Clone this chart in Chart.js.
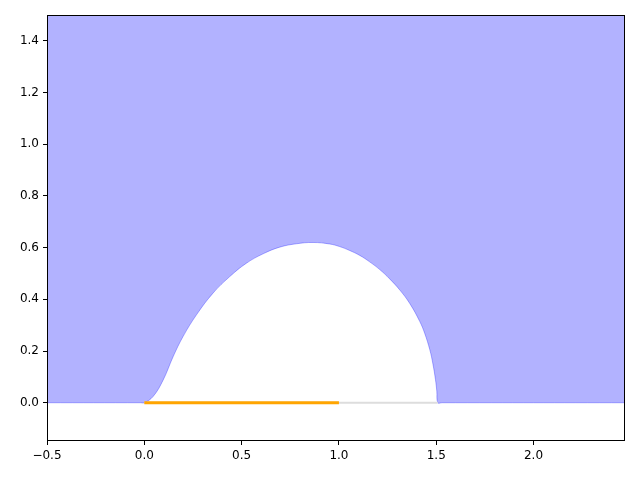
<!DOCTYPE html>
<html>
<head>
<meta charset="utf-8">
<script src="https://cdn.jsdelivr.net/npm/chart.js@4.4.1/dist/chart.umd.min.js"></script>
<style>
  html, body { margin: 0; padding: 0; background: #fff; }
  #wrap { width: 640px; height: 480px; }
</style>
</head>
<body>
<div id="wrap"><canvas id="chart" width="640" height="480"></canvas></div>
<script>
// contour of the shaded region (baseline, then the bubble, then baseline again)
const edgeX = [-0.5, -0.02, 0, 0.045, 0.097, 0.148, 0.199, 0.268, 0.353, 0.439, 0.525, 0.61, 0.696, 0.782, 0.867,
               0.953, 1.004, 1.055, 1.107, 1.158, 1.21, 1.261, 1.313, 1.364, 1.415, 1.441, 1.467,
               1.483, 1.496, 1.503, 1.508, 1.53, 2.47];
const edgeY = [0, 0, 0, 0.024, 0.088, 0.178, 0.256, 0.34, 0.424, 0.488, 0.54, 0.576, 0.602, 0.615, 0.62,
               0.614, 0.604, 0.589, 0.57, 0.545, 0.515, 0.479, 0.436, 0.384, 0.315, 0.268, 0.205,
               0.15, 0.09, 0.045, 0, 0, 0];

// grey baseline under the bubble and the orange segment
const baseX = [0, 1.508];
const baseY = [0, 0];
const segX = [0, 1];
const segY = [0, 0];

// tick labels
const xTicks = [-0.5, 0, 0.5, 1, 1.5, 2];
const yTicks = [0, 0.2, 0.4, 0.6, 0.8, 1.0, 1.2, 1.4];

const pts = (xs, ys) => xs.map((x, i) => ({ x: x, y: ys[i] }));
const fmt = v => Number(v).toFixed(1).replace('-', '\u2212');

// draws the box round the plot, like matplotlib's spines
const frame = {
  id: 'frame',
  afterDatasetsDraw(chart) {
    const a = chart.chartArea;
    const c = chart.ctx;
    c.save();
    c.strokeStyle = '#000';
    c.lineWidth = 1;
    c.strokeRect(Math.round(a.left) + 0.5, Math.round(a.top) + 0.5,
                 Math.round(a.right - a.left) - 1, Math.round(a.bottom - a.top) - 1);
    c.restore();
  }
};

const axis = (ticks, fitFn) => ({
  type: 'linear',
  afterBuildTicks: s => { s.ticks = ticks.map(v => ({ value: v })); },
  afterFit: fitFn,
  ticks: {
    callback: v => fmt(v),
    color: '#000',
    font: { family: 'DejaVu Sans', size: 12 },
    padding: 4
  },
  grid: { display: true, drawOnChartArea: false, drawTicks: true, tickLength: 4, tickColor: '#000', tickWidth: 1 },
  border: { display: false }
});

const ctx = document.getElementById('chart').getContext('2d');
new Chart(ctx, {
  type: 'scatter',
  data: {
    datasets: [
      {
        data: pts(segX, segY), showLine: true, borderColor: 'rgb(255,165,0)', borderWidth: 3,
        pointRadius: 0, fill: false, order: 1
      },
      {
        data: pts(baseX, baseY), showLine: true, borderColor: '#dddddd', borderWidth: 2,
        pointRadius: 0, fill: false, order: 2
      },
      {
        data: pts(edgeX, edgeY), showLine: true, borderColor: 'rgba(0,0,255,0.3)', borderWidth: 1,
        backgroundColor: 'rgba(0,0,255,0.3)', fill: 'end', pointRadius: 0,
        tension: 0.4, order: 3
      }
    ]
  },
  options: {
    responsive: false,
    animation: false,
    devicePixelRatio: 1,
    layout: { padding: { left: 0, right: 15, top: 15, bottom: 0 } },
    plugins: { legend: { display: false }, tooltip: { enabled: false } },
    scales: {
      x: Object.assign(axis(xTicks, s => { s.height = 39; }), { min: -0.5, max: 2.47, position: 'bottom' }),
      y: Object.assign(axis(yTicks, s => { s.width = 47; }), { min: -0.148, max: 1.5, position: 'left' })
    }
  },
  plugins: [frame]
});
</script>
</body>
</html>
